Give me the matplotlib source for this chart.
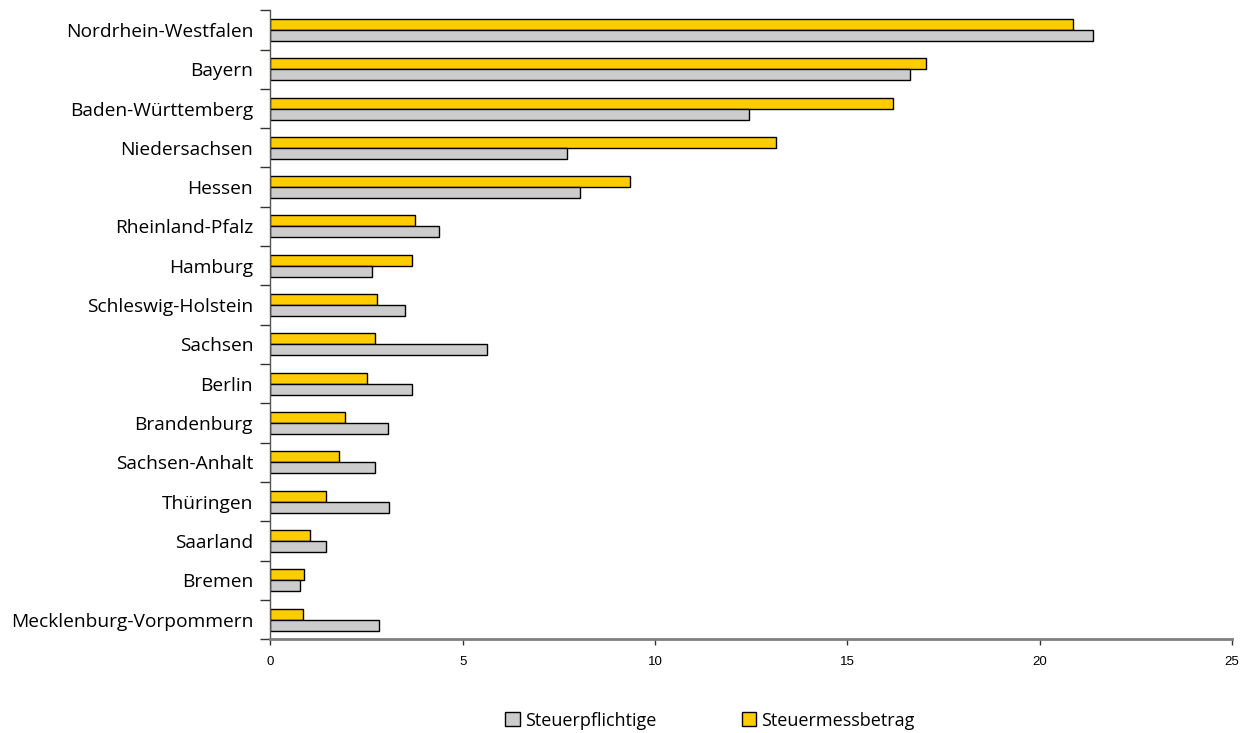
import matplotlib
matplotlib.use("Agg")
import matplotlib.pyplot as plt
import numpy as np
from matplotlib.patches import Patch

# Bundeslaender, sorted as in the reference (top to bottom)
laender = [
    "Nordrhein-Westfalen", "Bayern", "Baden-Württemberg", "Niedersachsen",
    "Hessen", "Rheinland-Pfalz", "Hamburg", "Schleswig-Holstein", "Sachsen",
    "Berlin", "Brandenburg", "Sachsen-Anhalt", "Thüringen", "Saarland",
    "Bremen", "Mecklenburg-Vorpommern",
]
steuerpflichtige = [21.39, 16.62, 12.45, 7.72, 8.06, 4.39, 2.65, 3.50, 5.64,
                    3.68, 3.05, 2.71, 3.08, 1.45, 0.77, 2.83]
steuermessbetrag = [20.87, 17.06, 16.20, 13.15, 9.35, 3.76, 3.68, 2.77, 2.71,
                    2.52, 1.95, 1.77, 1.45, 1.04, 0.86, 0.84]
x_ticks = [0, 5, 10, 15, 20, 25]

GRAY = "#cccccc"
YELLOW = "#ffcc00"
label_font = "Open Sans"

fig = plt.figure(figsize=(12.48, 7.33), dpi=100)
ax = fig.add_axes([0.2167, 0.128, 0.7703, 0.858])

y = np.arange(len(laender))
h = 0.28
ax.barh(y - h / 2, steuermessbetrag, height=h, color=YELLOW,
        edgecolor="black", linewidth=1.0)
ax.barh(y + h / 2, steuerpflichtige, height=h, color=GRAY,
        edgecolor="black", linewidth=1.0)

ax.set_ylim(len(laender) - 0.5, -0.5)
ax.set_xlim(0, 25)

# category labels centred, ticks on the band boundaries
ax.set_yticks(y)
ax.set_yticklabels(laender, fontsize=13.8, family=label_font)
ax.set_yticks(np.arange(len(laender) + 1) - 0.5, minor=True)
ax.tick_params(axis="y", which="major", length=0, pad=12.5)
ax.tick_params(axis="y", which="minor", length=7, width=1, color="#333333",
               direction="out")

ax.set_xticks(x_ticks)
ax.set_xticklabels([str(t) for t in x_ticks], fontsize=9.5,
                   family="Liberation Sans")
ax.tick_params(axis="x", length=4, width=1, color="#333333", pad=8)

for side in ["top", "right"]:
    ax.spines[side].set_visible(False)
ax.spines["bottom"].set_color("#808080")
ax.spines["bottom"].set_linewidth(2)
ax.spines["left"].set_color("#555555")
ax.spines["left"].set_linewidth(1)

handles = [
    Patch(facecolor=GRAY, edgecolor="black", linewidth=1, label="Steuerpflichtige"),
    Patch(facecolor=YELLOW, edgecolor="black", linewidth=1, label="Steuermessbetrag"),
]
fig.legend(handles=handles, loc="center", bbox_to_anchor=(0.569, 0.017),
           ncol=2, frameon=False, prop={"family": label_font, "size": 13},
           handlelength=0.8, handleheight=0.8, handletextpad=0.3,
           columnspacing=4.7)

fig.savefig("out.png", dpi=100, facecolor="white")
